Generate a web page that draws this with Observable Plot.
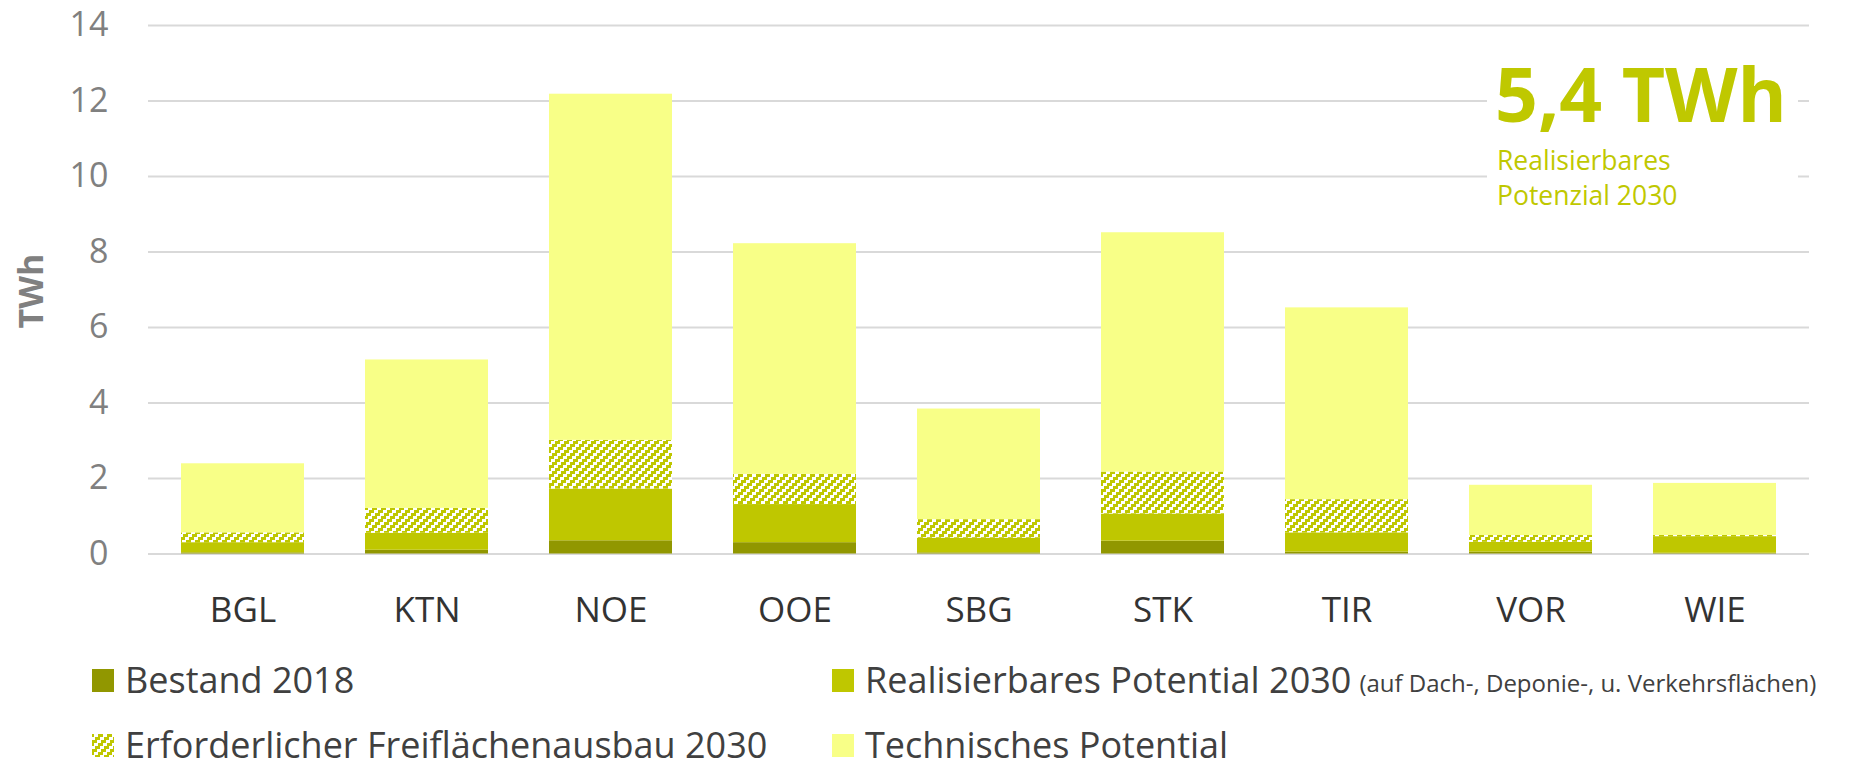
<!DOCTYPE html>
<html>
<head>
<meta charset="utf-8">
<script src="https://cdn.jsdelivr.net/npm/d3@7"></script>
<script src="https://cdn.jsdelivr.net/npm/@observablehq/plot@0.6"></script>
<style>
  html, body { margin: 0; padding: 0; background: #fff; }
  body { width: 1868px; height: 767px; overflow: hidden; font-family: "Open Sans", sans-serif; }
  #wrap { position: relative; width: 1868px; height: 767px; }
  #chart svg { display: block; }
  .ytitle { position: absolute; left: 30px; top: 291px; transform: translate(-50%, -50%) rotate(-90deg);
            font-weight: 700; font-size: 34px; color: #808080; white-space: nowrap; line-height: 1; }
  .anno { position: absolute; left: 1487px; top: 42px; width: 311px; height: 182px; background: #fff; color: #bfc800; }
  .anno .big { position: absolute; left: 8px; top: 14px; font-weight: 700; font-size: 75px; line-height: 1; white-space: nowrap; }
  .anno .small { position: absolute; left: 10px; top: 101px; font-size: 26.5px; line-height: 35px; white-space: nowrap; }
  .leg { position: absolute; display: flex; align-items: center; color: #404040; font-size: 36px; white-space: nowrap; line-height: 1; height: 34px; }
  .sw { display: block; width: 22px; height: 23px; margin-right: 11px; flex: none; }
  .leg small { font-size: 24px; margin-left: 8px; align-self: flex-end; padding-bottom: 2px; }
</style>
</head>
<body>
<div id="wrap">
  <div id="chart"></div>
  <div class="ytitle">TWh</div>
  <div class="anno"><div class="big">5,4 TWh</div><div class="small">Realisierbares<br>Potenzial 2030</div></div>
  <div id="legend"></div>
</div>
<script>
// ---- data ----
const regions = ["BGL", "KTN", "NOE", "OOE", "SBG", "STK", "TIR", "VOR", "WIE"];
const seriesNames = [
  "Bestand 2018",
  "Realisierbares Potential 2030",
  "Erforderlicher Freiflächenausbau 2030",
  "Technisches Potential"
];
const bestand2018       = [0.03, 0.10, 0.35, 0.30, 0.03, 0.34, 0.05, 0.05, 0.02];
const realisierbar2030  = [0.27, 0.45, 1.37, 1.01, 0.39, 0.72, 0.51, 0.26, 0.44];
const freiflaeche2030   = [0.26, 0.66, 1.29, 0.80, 0.49, 1.11, 0.88, 0.18, 0.03];
const technisch         = [1.83, 3.93, 9.17, 6.11, 2.93, 6.34, 5.08, 1.33, 1.38];
const yTicks = [0, 2, 4, 6, 8, 10, 12, 14];
const seriesColors = ["#919700", "#bfc700", "url(#hatch)", "#f8ff87"];
const legendSub = "(auf Dach-, Deponie-, u. Verkehrsflächen)";

const seriesValues = [bestand2018, realisierbar2030, freiflaeche2030, technisch];
const rows = [];
seriesNames.forEach((s, si) => regions.forEach((r, ri) => rows.push({region: r, series: s, value: seriesValues[si][ri]})));

const plot = Plot.plot({
  width: 1868,
  height: 640,
  marginLeft: 148,
  marginRight: 59,
  marginTop: 25,
  marginBottom: 86.5,
  style: {fontFamily: "'Open Sans', sans-serif", background: "#fff"},
  x: {domain: regions, paddingInner: 0.334, paddingOuter: 0.167, label: null},
  y: {domain: [0, 14], label: null},
  color: {domain: seriesNames, range: seriesColors},
  marks: [
    Plot.gridY(yTicks, {stroke: "#d9d9d9", strokeOpacity: 1, strokeWidth: 2}),
    Plot.barY(rows, {x: "region", y: "value", fill: "series", order: seriesNames}),
    Plot.axisY(yTicks, {tickSize: 0, tickPadding: 40, fontSize: 34, fill: "#808080", label: null, tickFormat: d => String(d)}),
    Plot.axisX({tickSize: 0, tickPadding: 43, fontSize: 35, fill: "#333333", label: null})
  ]
});
const ns = "http://www.w3.org/2000/svg";
const defs = document.createElementNS(ns, "defs");
defs.innerHTML = `<pattern id="hatch" patternUnits="userSpaceOnUse" width="9" height="9">
  <rect width="9" height="9" fill="#ffffff"/>
  <rect x="0" y="6" width="5" height="3" fill="#bfc700"/>
  <rect x="3" y="3" width="5" height="3" fill="#bfc700"/>
  <rect x="6" y="0" width="3" height="3" fill="#bfc700"/>
  <rect x="0" y="0" width="2" height="3" fill="#bfc700"/>
</pattern>`;
plot.insertBefore(defs, plot.firstChild);
document.getElementById("chart").appendChild(plot);

// ---- legend ----
const legPos = [
  {left: 92, top: 663}, {left: 832, top: 663},
  {left: 92, top: 728}, {left: 832, top: 728}
];
const legend = document.getElementById("legend");
seriesNames.forEach((s, i) => {
  const d = document.createElement("div");
  d.className = "leg";
  d.style.left = legPos[i].left + "px";
  d.style.top = legPos[i].top + "px";
  const sw = `<svg class="sw" width="22" height="23"><rect width="22" height="23" fill="${seriesColors[i]}"/></svg>`;
  d.innerHTML = sw + `<span>${s}</span>` + (i === 1 ? `<small>${legendSub}</small>` : "");
  legend.appendChild(d);
});
</script>
</body>
</html>
